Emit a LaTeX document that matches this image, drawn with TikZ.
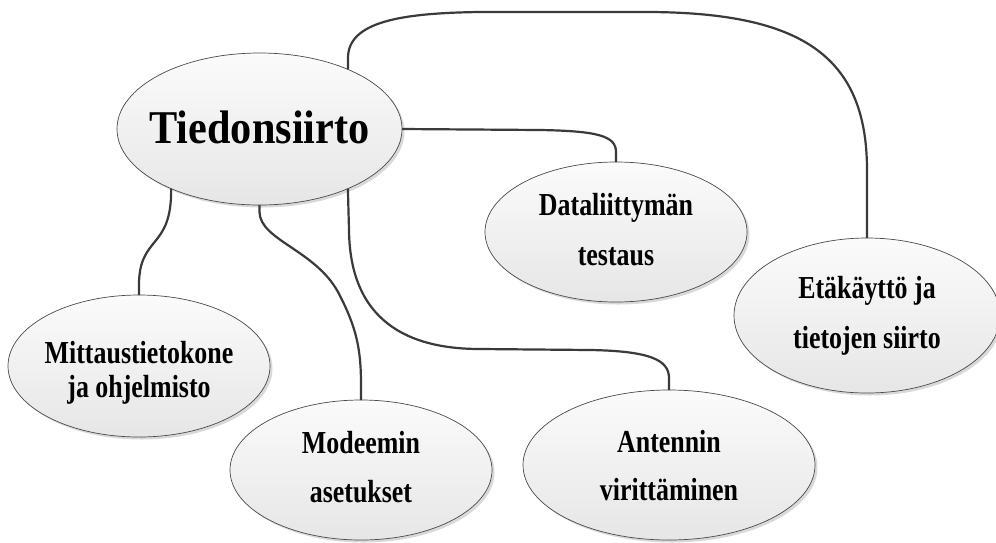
\documentclass[tikz,border=0pt]{standalone}
\usepackage{fontspec}
\setmainfont{Liberation Serif}
\newfontfamily\smallf[FakeStretch=0.81]{Liberation Serif}
\newfontfamily\bigf[FakeStretch=0.90]{Liberation Serif}
\usetikzlibrary{shapes.geometric,shadows}
\definecolor{connc}{HTML}{3A3A3A}
\definecolor{edgec}{HTML}{4A4A4A}
\definecolor{fillA}{HTML}{FBFBFB}
\definecolor{fillB}{HTML}{E6E6E6}
\newcommand\txtat[2]{\makebox[0pt][c]{\raisebox{#1}[0pt][0pt]{\begin{tabular}[b]{@{}c@{}}#2\end{tabular}}}}
\tikzset{
  bub/.style={ellipse, draw=edgec, line width=0.7pt, top color=fillA, bottom color=fillB,
    inner sep=0pt, outer sep=0pt,
    drop shadow={shadow xshift=2.5pt, shadow yshift=-2.5pt, fill=black, opacity=0.15}},
  conn/.style={draw=connc, line width=2.2pt}
}
\begin{document}
\begin{tikzpicture}[x=1pt,y=-1pt]
\clip (0,0) rectangle (996,542);
\fill[white] (0,0) rectangle (996,542);
% ellipses
\node[bub, minimum width=285pt, minimum height=152pt, font={\bigf\bfseries\fontsize{47}{50}\selectfont}]
  (main) at (259.5,129) {\txtat{-14pt}{Tiedonsiirto}};
\node[bub, minimum width=262pt, minimum height=142pt, font={\smallf\bfseries\fontsize{32}{34}\selectfont}]
  (mitt) at (139,366) {\txtat{-31pt}{Mittaustietokone\\ja ohjelmisto}};
\node[bub, minimum width=262pt, minimum height=140pt, font={\smallf\bfseries\fontsize{32}{49}\selectfont}]
  (mod) at (361,470) {\txtat{-32pt}{Modeemin\\asetukset}};
\node[bub, minimum width=262pt, minimum height=140pt, font={\smallf\bfseries\fontsize{32}{50}\selectfont}]
  (data) at (616,232) {\txtat{-33pt}{Dataliittymän\\testaus}};
\node[bub, minimum width=266pt, minimum height=155pt, font={\smallf\bfseries\fontsize{32}{50}\selectfont}]
  (eta) at (867,315.5) {\txtat{-32.5pt}{Etäkäyttö ja\\tietojen siirto}};
\node[bub, minimum width=292pt, minimum height=150pt, font={\smallf\bfseries\fontsize{32}{48}\selectfont}]
  (ant) at (669,465) {\txtat{-35pt}{Antennin\\virittäminen}};
% connectors
\draw[conn] (main.34) -- (348,58) .. controls (348,22) and (400,13) .. (480,12) -- (650,12)
  .. controls (800,13) and (867,55) .. (867,170) -- (eta.north);
\draw[conn] (main.east) -- (540,130) .. controls (598,131) and (616,136) .. (616,152) -- (data.north);
\draw[conn] (main.214) .. controls (172,250) and (139,235) .. (139,285) -- (mitt.north);
\draw[conn] (main.south) -- (259.5,212) .. controls (260,240) and (315,250) .. (338,292)
  .. controls (357,328) and (361,350) .. (361,385) -- (mod.north);
\draw[conn] (main.326) -- (349,230) .. controls (350,330) and (420,349) .. (480,349) -- (590,350)
  .. controls (650,351) and (669,360) .. (669,378) -- (ant.north);
\end{tikzpicture}
\end{document}
